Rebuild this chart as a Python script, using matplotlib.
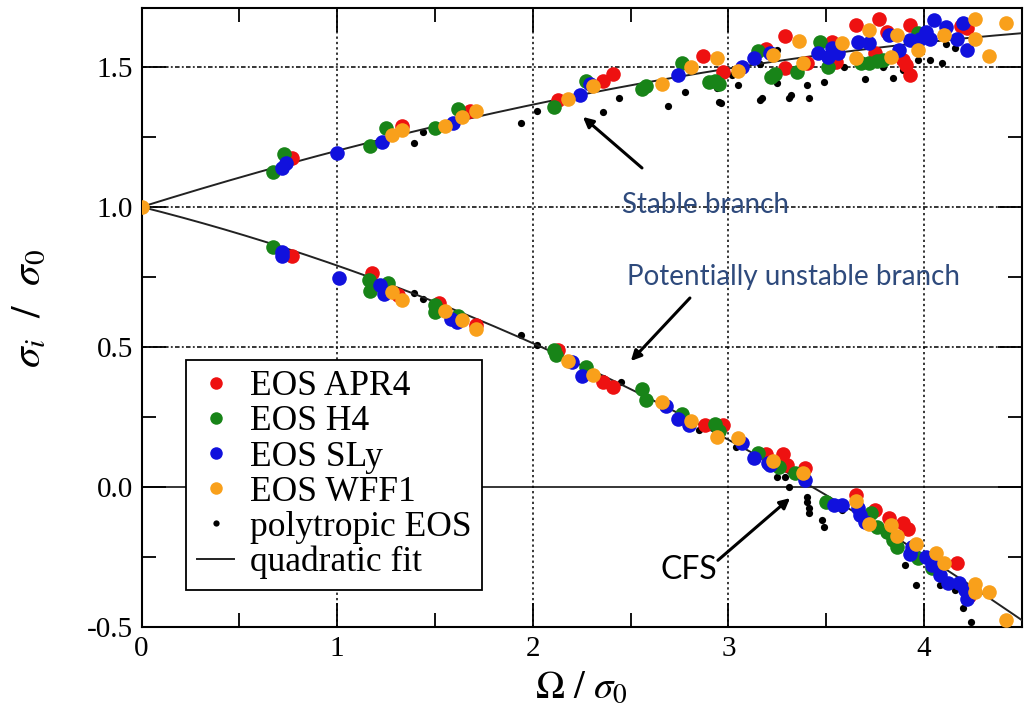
import numpy as np
import matplotlib
matplotlib.use("Agg")
import matplotlib.pyplot as plt
from matplotlib.ticker import MultipleLocator

plt.rcParams['font.family'] = ['Liberation Serif', 'DejaVu Serif']
plt.rcParams['mathtext.fontset'] = 'stix'
plt.rcParams['axes.unicode_minus'] = False

# ---------------- data (Omega/sigma0, sigma_i/sigma0) ----------------
apr4_x = [0.77, 1.33, 1.68, 2.13, 2.36, 2.41, 2.87, 2.97, 3.19, 3.29, 3.29, 3.40, 3.53, 3.55,
          3.65, 3.75, 3.77, 3.81, 3.89, 3.91, 3.93, 3.93, 4.19, 4.22,
          0.77, 1.18, 1.31, 1.52, 1.71, 2.13, 2.36, 2.41, 2.88, 2.97, 3.19, 3.28, 3.30, 3.39,
          3.65, 3.75, 3.82, 3.89, 3.92, 4.17, 4.23]
apr4_y = [1.175, 1.29, 1.343, 1.38, 1.45, 1.475, 1.54, 1.48, 1.564, 1.496, 1.61, 1.514, 1.59, 1.518,
          1.65, 1.55, 1.67, 1.625, 1.525, 1.507, 1.47, 1.65, 1.646, 1.64,
          0.825, 0.764, 0.686, 0.657, 0.578, 0.489, 0.375, 0.357, 0.221, 0.221, 0.118, 0.118, 0.079, 0.07,
          -0.029, -0.082, -0.11, -0.129, -0.15, -0.271, -0.39]

h4_x = [0.67, 0.73, 1.17, 1.25, 1.50, 1.62, 2.11, 2.27, 2.56, 2.58, 2.76, 2.90, 2.93, 2.95, 3.15,
        3.24, 3.22, 3.35, 3.47, 3.51, 3.68, 3.72, 3.76, 3.79, 3.97,
        0.67, 1.16, 1.17, 1.26, 1.50, 1.50, 1.62, 2.12, 2.11, 2.27, 2.56, 2.58, 2.76, 2.93, 2.95,
        3.15, 3.26, 3.34, 3.50, 3.73, 3.76, 3.81, 3.84, 3.86, 3.97, 4.04]
h4_y = [1.125, 1.19, 1.218, 1.28, 1.28, 1.35, 1.357, 1.45, 1.42, 1.43, 1.514, 1.446, 1.45, 1.44, 1.555,
        1.475, 1.465, 1.48, 1.59, 1.50, 1.514, 1.514, 1.52, 1.525, 1.62,
        0.857, 0.739, 0.70, 0.727, 0.65, 0.625, 0.61, 0.47, 0.49, 0.43, 0.35, 0.31, 0.26, 0.225, 0.20,
        0.121, 0.071, 0.05, -0.054, -0.093, -0.143, -0.16, -0.19, -0.214, -0.254, -0.29]

sly_x = [0.72, 0.74, 1.00, 1.23, 1.59, 2.24, 2.29, 2.74, 3.07, 3.13, 3.21, 3.46, 3.51, 3.53, 3.56,
         3.66, 3.72, 3.82, 3.87, 3.93, 3.98, 4.01, 4.03, 4.05, 4.11, 4.17, 4.20, 4.22,
         0.72, 0.72, 1.01, 1.22, 1.24, 1.58, 1.61, 2.20, 2.25, 2.68, 2.74, 2.80, 3.07, 3.13, 3.20,
         3.21, 3.39, 3.54, 3.58, 3.66, 3.67, 3.70, 3.94, 3.93, 4.01, 4.04, 4.08, 4.12, 4.18, 4.21, 4.22]
sly_y = [1.14, 1.157, 1.193, 1.232, 1.30, 1.40, 1.44, 1.47, 1.50, 1.53, 1.55, 1.55, 1.536, 1.568, 1.55,
         1.59, 1.586, 1.614, 1.56, 1.596, 1.60, 1.625, 1.60, 1.668, 1.643, 1.60, 1.657, 1.56,
         0.84, 0.825, 0.746, 0.72, 0.69, 0.60, 0.59, 0.445, 0.396, 0.29, 0.243, 0.22, 0.157, 0.104, 0.086,
         0.079, 0.025, -0.064, -0.064, -0.075, -0.10, -0.125, -0.214, -0.24, -0.25, -0.279, -0.314,
         -0.343, -0.343, -0.368, -0.40]

wff1_x = [0.0, 1.28, 1.33, 1.55, 1.64, 1.71, 2.18, 2.31, 2.66, 2.81, 2.94, 3.05, 3.23, 3.36, 3.38,
          3.58, 3.65, 3.72, 3.83, 3.86, 3.97, 4.10, 4.26, 4.26, 4.33, 4.42,
          1.28, 1.33, 1.55, 1.64, 1.71, 2.18, 2.31, 2.66, 2.81, 2.94, 3.05, 3.23, 3.38, 3.65,
          3.72, 3.83, 3.86, 3.96, 4.06, 4.10, 4.26, 4.26, 4.33, 4.42]
wff1_y = [1.0, 1.257, 1.275, 1.29, 1.32, 1.343, 1.386, 1.43, 1.44, 1.50, 1.53, 1.486, 1.543, 1.593, 1.514,
          1.586, 1.532, 1.632, 1.536, 1.614, 1.56, 1.614, 1.67, 1.60, 1.54, 1.657,
          0.696, 0.668, 0.63, 0.596, 0.564, 0.45, 0.40, 0.304, 0.236, 0.179, 0.175, 0.093, 0.05, -0.05,
          -0.132, -0.136, -0.175, -0.204, -0.236, -0.271, -0.346, -0.375, -0.375, -0.475]

poly_x = [1.39, 1.44, 1.94, 2.02, 2.36, 2.44, 2.69, 2.78, 2.94, 2.95, 2.96, 3.02, 3.05, 3.16, 3.17,
          3.16, 3.25, 3.25, 3.31, 3.32, 3.40, 3.41, 3.49, 3.59, 3.70, 3.79, 3.84, 3.89, 3.97, 4.03,
          4.09, 4.11, 4.16,
          1.39, 1.44, 1.94, 2.02, 2.36, 2.45, 2.85, 3.04, 3.25, 3.29, 3.31, 3.36, 3.40, 3.40, 3.41,
          3.41, 3.48, 3.49, 3.58, 3.90, 3.96, 4.08, 4.16, 4.20, 4.24]
poly_y = [1.228, 1.268, 1.30, 1.343, 1.34, 1.39, 1.36, 1.41, 1.425, 1.375, 1.37, 1.47, 1.436, 1.38, 1.39,
          1.51, 1.443, 1.56, 1.39, 1.40, 1.436, 1.39, 1.446, 1.50, 1.457, 1.50, 1.46, 1.49, 1.525, 1.525,
          1.514, 1.58, 1.568,
          0.693, 0.671, 0.543, 0.507, 0.39, 0.375, 0.204, 0.143, 0.036, 0.036, 0.0, 0.054, -0.036, -0.054,
          -0.075, -0.093, -0.118, -0.143, -0.082, -0.279, -0.35, -0.35, -0.368, -0.432, -0.482]

# quadratic fit coefficients (c2, c1, c0)
fit_stable = [-0.0179, 0.2183, 1.0]
fit_unstable = [-0.0338, -0.1756, 1.0]

# ---------------- figure ----------------
fig = plt.figure(figsize=(10.26, 7.21), dpi=100)
ax = fig.add_axes([0.138, 0.130, 0.858, 0.859])

xf = np.linspace(0, 4.5, 300)
ax.plot(xf, np.polyval(fit_stable, xf), color='#222222', lw=1.4, zorder=3)
ax.plot(xf, np.polyval(fit_unstable, xf), color='#222222', lw=1.4, zorder=3)

ms = 10.5
ax.plot(poly_x, poly_y, 'o', color='black', ms=5.2, mec='none', zorder=2)
ax.plot(apr4_x, apr4_y, 'o', color='#ee1111', ms=ms, mec='none', zorder=4)
ax.plot(h4_x, h4_y, 'o', color='#188418', ms=ms, mec='none', zorder=4)
ax.plot(sly_x, sly_y, 'o', color='#1111dd', ms=ms, mec='none', zorder=4)
ax.plot(wff1_x, wff1_y, 'o', color='#f9a01b', ms=ms, mec='none', zorder=5)

# legend proxies
h1, = ax.plot([], [], 'o', color='#ee1111', ms=9, mec='none')
h2, = ax.plot([], [], 'o', color='#188418', ms=9, mec='none')
h3, = ax.plot([], [], 'o', color='#1111dd', ms=9, mec='none')
h4, = ax.plot([], [], 'o', color='#f9a01b', ms=9, mec='none')
h5, = ax.plot([], [], 'o', color='black', ms=4.5, mec='none')
h6, = ax.plot([], [], '-', color='#222222', lw=1.4)
leg = ax.legend([h1, h2, h3, h4, h5, h6],
                ['EOS APR4', 'EOS H4', 'EOS SLy', 'EOS WFF1', 'polytropic EOS', 'quadratic fit'],
                loc='lower left', bbox_to_anchor=(0.051, 0.06), fontsize=25.5,
                frameon=True, fancybox=False, framealpha=1, edgecolor='black',
                handlelength=1.05, handletextpad=0.45, labelspacing=0.06, borderpad=0.3,
                borderaxespad=0)
leg.get_frame().set_linewidth(1.3)
leg.set_zorder(10)

ax.set_xlim(0, 4.5)
ax.set_ylim(-0.5, 1.71)
ax.xaxis.set_major_locator(MultipleLocator(1))
ax.xaxis.set_minor_locator(MultipleLocator(0.5))
ax.yaxis.set_major_locator(MultipleLocator(0.5))
ax.yaxis.set_minor_locator(MultipleLocator(0.25))
ax.tick_params(which='both', direction='in', top=True, right=True, width=1.3, labelsize=21, pad=6)
ax.tick_params(which='major', length=17)
ax.tick_params(which='minor', length=10)
ax.set_yticks([-0.5, 0.0, 0.5, 1.0, 1.5])
ax.set_yticklabels(['-0.5', '0.0', '0.5', '1.0', '1.5'])
for s in ax.spines.values():
    s.set_linewidth(1.5)

for xv in [1, 2, 3, 4]:
    ax.axvline(xv, color='black', lw=1.1, ls=(0, (1.5, 2)), zorder=1)
for yv in [0.5, 1.0, 1.5]:
    ax.axhline(yv, color='black', lw=1.1, ls=(0, (3, 1.5, 1.2, 1.5)), zorder=1)
ax.axhline(0.0, color='black', lw=1.1, zorder=1)

ax.set_xlabel(r'$\Omega\ /\ \sigma_0$', fontsize=28, labelpad=6)
ax.set_ylabel(r'$\sigma_i\ \ /\ \ \sigma_0$', fontsize=30)
ax.yaxis.set_label_coords(-0.105, 0.515)

# annotations
ann_color = '#2e4a7c'
ax.text(2.885, 1.007, 'Stable branch', color=ann_color, fontsize=20, family='Lato',
        ha='center', va='center', zorder=12)
ax.text(3.33, 0.75, 'Potentially unstable branch', color=ann_color, fontsize=20, family='Lato',
        ha='center', va='center', zorder=12)
ax.text(2.80, -0.296, 'CFS', color='black', fontsize=23, family='Lato',
        ha='center', va='center', zorder=12)
arr = dict(arrowstyle='-|>,head_length=0.6,head_width=0.3', color='black', lw=2.2, shrinkA=0, shrinkB=0)
ax.annotate('', xy=(2.256, 1.321), xytext=(2.558, 1.139), arrowprops=arr, zorder=12)
ax.annotate('', xy=(2.501, 0.45), xytext=(2.803, 0.675), arrowprops=arr, zorder=12)
ax.annotate('', xy=(3.315, -0.039), xytext=(2.946, -0.261), arrowprops=arr, zorder=12)

fig.savefig('out.png', dpi=100)
